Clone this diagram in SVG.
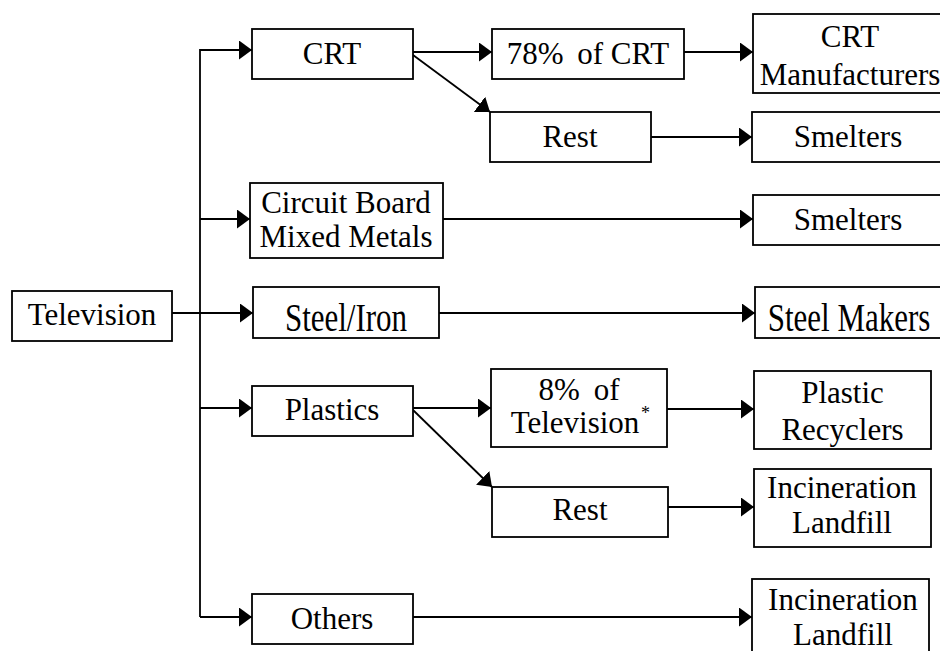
<svg xmlns="http://www.w3.org/2000/svg" width="940" height="651" viewBox="0 0 940 651">
<style>
.box{fill:#fff;stroke:#000;stroke-width:1.8}
.t{font-size:31px;text-anchor:middle;fill:#000}
.sup{font-size:18px;fill:#000}
.c{fill:none;stroke:#000;stroke-width:1.8}
</style>
<defs>
<marker id="ah" markerUnits="userSpaceOnUse" markerWidth="13" markerHeight="19" refX="13" refY="9.5" orient="auto">
<path d="M0,0 L13,9.5 L0,19 z" fill="#000"/>
</marker>
</defs>
<rect width="940" height="651" fill="#fff"/>
<g id="connectors">
<path class="c" d="M252,50 H200 V617"/>
<path class="c" d="M200,50 H252" marker-end="url(#ah)"/>
<path class="c" d="M200,219 H250" marker-end="url(#ah)"/>
<path class="c" d="M172,313 H253" marker-end="url(#ah)"/>
<path class="c" d="M200,408 H252" marker-end="url(#ah)"/>
<path class="c" d="M200,617 H252" marker-end="url(#ah)"/>
<path class="c" d="M413,52 H492" marker-end="url(#ah)"/>
<path class="c" d="M413,55 L490,112" marker-end="url(#ah)"/>
<path class="c" d="M684,52 H753" marker-end="url(#ah)"/>
<path class="c" d="M651,137 H752" marker-end="url(#ah)"/>
<path class="c" d="M443,219 H753" marker-end="url(#ah)"/>
<path class="c" d="M439,313 H755" marker-end="url(#ah)"/>
<path class="c" d="M413,408 H491" marker-end="url(#ah)"/>
<path class="c" d="M413,410 L492,487" marker-end="url(#ah)"/>
<path class="c" d="M667,409 H754" marker-end="url(#ah)"/>
<path class="c" d="M668,507 H754" marker-end="url(#ah)"/>
<path class="c" d="M413,617 H752" marker-end="url(#ah)"/>
</g>
<g font-family="Liberation Serif, DejaVu Serif, serif">
<g id="television"><rect class="box" x="12" y="291" width="160" height="50"/><text class="t" x="92" y="325">Television</text></g>
<g id="crt"><rect class="box" x="252" y="29" width="161" height="50"/><text class="t" x="332" y="64">CRT</text></g>
<g id="crt78"><rect class="box" x="492" y="29" width="192" height="50"/><text class="t" x="588" y="64">78%<tspan dx="6"> of CRT</tspan></text></g>
<g id="crtman"><rect class="box" x="753" y="14" width="200" height="79"/><text class="t" x="850" y="47">CRT</text><text class="t" x="850" y="85">Manufacturers</text></g>
<g id="crtrest"><rect class="box" x="490" y="112" width="161" height="50"/><text class="t" x="570" y="147">Rest</text></g>
<g id="smelters1"><rect class="box" x="752" y="112" width="200" height="50"/><text class="t" x="848" y="147">Smelters</text></g>
<g id="circuit"><rect class="box" x="250" y="183" width="193" height="75"/><text class="t" x="346" y="213">Circuit Board</text><text class="t" x="346" y="247">Mixed Metals</text></g>
<g id="smelters2"><rect class="box" x="753" y="195" width="200" height="50"/><text class="t" x="848" y="230">Smelters</text></g>
<g id="steeliron"><rect class="box" x="253" y="287" width="186" height="51"/><text class="t" transform="translate(346,331) scale(1,1.3)" x="0" y="0">Steel/Iron</text></g>
<g id="steelmakers"><rect class="box" x="755" y="287" width="200" height="51"/><text class="t" transform="translate(849,331) scale(1,1.3)" x="0" y="0">Steel Makers</text></g>
<g id="plastics"><rect class="box" x="252" y="386" width="161" height="50"/><text class="t" x="332" y="420">Plastics</text></g>
<g id="pct8"><rect class="box" x="491" y="369" width="176" height="78"/><text class="t" x="579" y="400">8%<tspan dx="6"> of</tspan></text><text class="t" x="575" y="433">Television</text><text class="sup" x="641" y="419">*</text></g>
<g id="recyclers"><rect class="box" x="754" y="371" width="177" height="78"/><text class="t" x="842.5" y="403">Plastic</text><text class="t" x="842.5" y="440">Recyclers</text></g>
<g id="plasticrest"><rect class="box" x="492" y="487" width="176" height="50"/><text class="t" x="580" y="520">Rest</text></g>
<g id="incin1"><rect class="box" x="754" y="469" width="177" height="78"/><text class="t" x="842" y="498">Incineration</text><text class="t" x="842" y="533">Landfill</text></g>
<g id="others"><rect class="box" x="252" y="594" width="161" height="50"/><text class="t" x="332" y="629">Others</text></g>
<g id="incin2"><rect class="box" x="752" y="579" width="177" height="80"/><text class="t" x="843" y="610">Incineration</text><text class="t" x="843" y="645">Landfill</text></g>
</g>
</svg>
